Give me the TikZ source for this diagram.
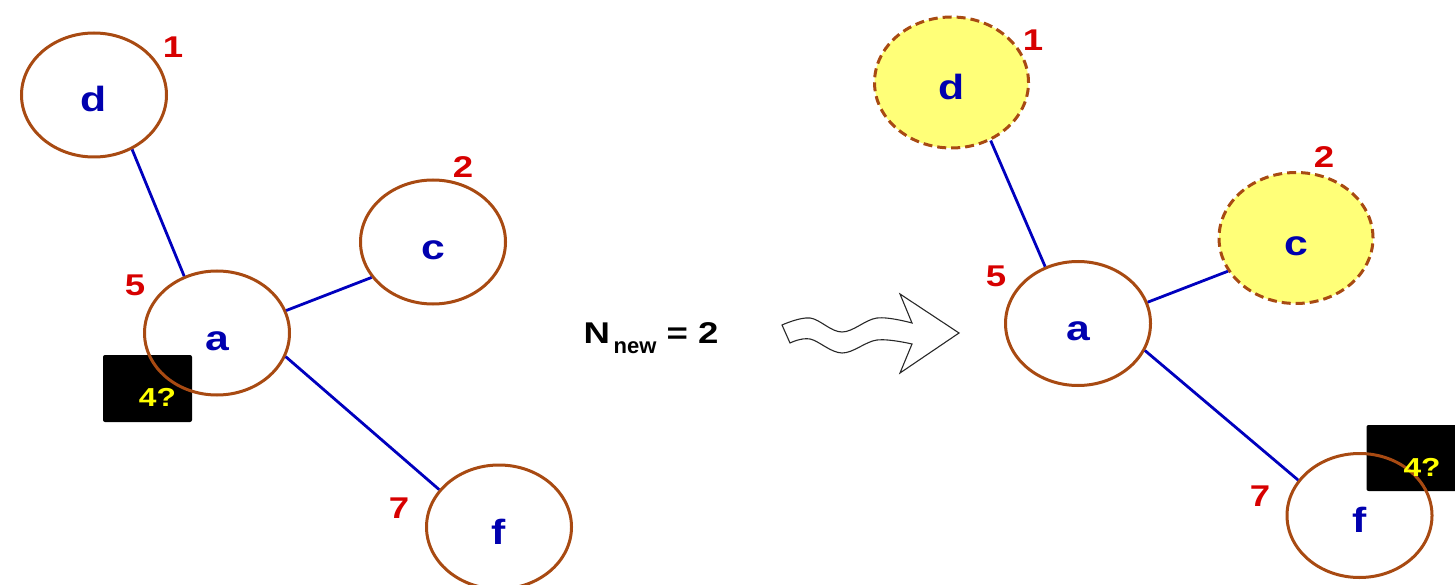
\documentclass[tikz,border=0pt]{standalone}
\usepackage{fontspec}
\setmainfont{Liberation Sans}[FakeStretch=1.22]
\newfontfamily\narrowfont{Liberation Sans}
\usepackage{tikz}
\usetikzlibrary{shapes.geometric}
\usepackage{xcolor}
\definecolor{ColRing}{RGB}{168,74,18}
\definecolor{ColEdge}{RGB}{0,0,190}
\definecolor{ColName}{RGB}{0,0,175}
\definecolor{ColNum}{RGB}{215,0,0}
\definecolor{ColDone}{RGB}{255,255,120}
\definecolor{ColQuery}{RGB}{255,255,0}
\definecolor{ColArrow}{RGB}{40,40,40}
\tikzstyle{NodeTree}=[ellipse,draw=ColRing,line width=3pt,inner sep=0pt,
minimum width=145pt,minimum height=124pt,text=ColName,text height=34pt,text depth=0pt,
font=\fontsize{35}{36}\selectfont\bfseries]
\tikzstyle{NodeDone}=[NodeTree,fill=ColDone,dash pattern=on 9pt off 5pt,
minimum width=154pt,minimum height=131pt]
\tikzstyle{EdgeTree}=[ColEdge,line width=2.8pt]
\tikzstyle{NumTree}=[text=ColNum,inner sep=0pt,font=\fontsize{30}{32}\selectfont\bfseries]
\tikzstyle{QueryBox}=[fill=black,rounded corners=2pt,inner sep=0pt]
\tikzstyle{QueryText}=[text=ColQuery,inner sep=0pt,font=\fontsize{26}{28}\selectfont\bfseries]

\begin{document}
\begin{tikzpicture}[x=1pt,y=-1pt]
        \useasboundingbox (0,0) rectangle (1455,585);
        % tree before
        \node[QueryBox,minimum width=89pt,minimum height=67pt](q1)at(147.5,388.5){};
        \node[NodeTree](d1)at(94,95){d};
        \node[NodeTree](c1)at(433,242){c};
        \node[NodeTree](a1)at(217,333){a};
        \node[NodeTree](f1)at(499,527){f};
        \node[QueryText](t1)at(157.5,397){4?};
        \draw[EdgeTree](d1.-55)--(a1.120);
        \draw[EdgeTree](a1.18)--(c1.210);
        \draw[EdgeTree](a1.-19)--(f1.148);
        \node[NumTree](n1)at(173,47){1};
        \node[NumTree](n2)at(463,167){2};
        \node[NumTree](n5)at(135,285){5};
        \node[NumTree](n7)at(399,508){7};
        % count and arrow
        \node[anchor=base,inner sep=0pt,font=\fontsize{30}{32}\selectfont\bfseries](cnt)at(651,343)
            {N\raisebox{-10pt}{\narrowfont\fontsize{22}{22}\selectfont\,new} = 2};
        \draw[ColArrow,line width=1.1pt,line join=miter]
            plot[smooth,tension=0.6] coordinates {(782,325) (810,318) (842,332) (877,318) (912,323)}
            -- (900,294) -- (959,333) -- (900,373)
            -- plot[smooth,tension=0.6] coordinates {(912,344) (877,340) (842,353) (810,339) (790,343)}
            -- cycle;
        % tree after
        \node[QueryBox,minimum width=91pt,minimum height=66pt](q2)at(1412,458){};
        \node[NodeDone](d2)at(951.5,82.5){d};
        \node[NodeDone](c2)at(1296,238){c};
        \node[NodeTree](a2)at(1078,323.5){a};
        \node[NodeTree](f2)at(1359.5,515.5){f};
        \node[QueryText](t2)at(1422,467){4?};
        \draw[EdgeTree](d2.-56)--(a2.120);
        \draw[EdgeTree](a2.17)--(c2.206);
        \draw[EdgeTree](a2.-22)--(f2.150);
        \node[NumTree](m1)at(1033,40){1};
        \node[NumTree](m2)at(1324,157){2};
        \node[NumTree](m5)at(996,276){5};
        \node[NumTree](m7)at(1260,496){7};
    \end{tikzpicture}
\end{document}
